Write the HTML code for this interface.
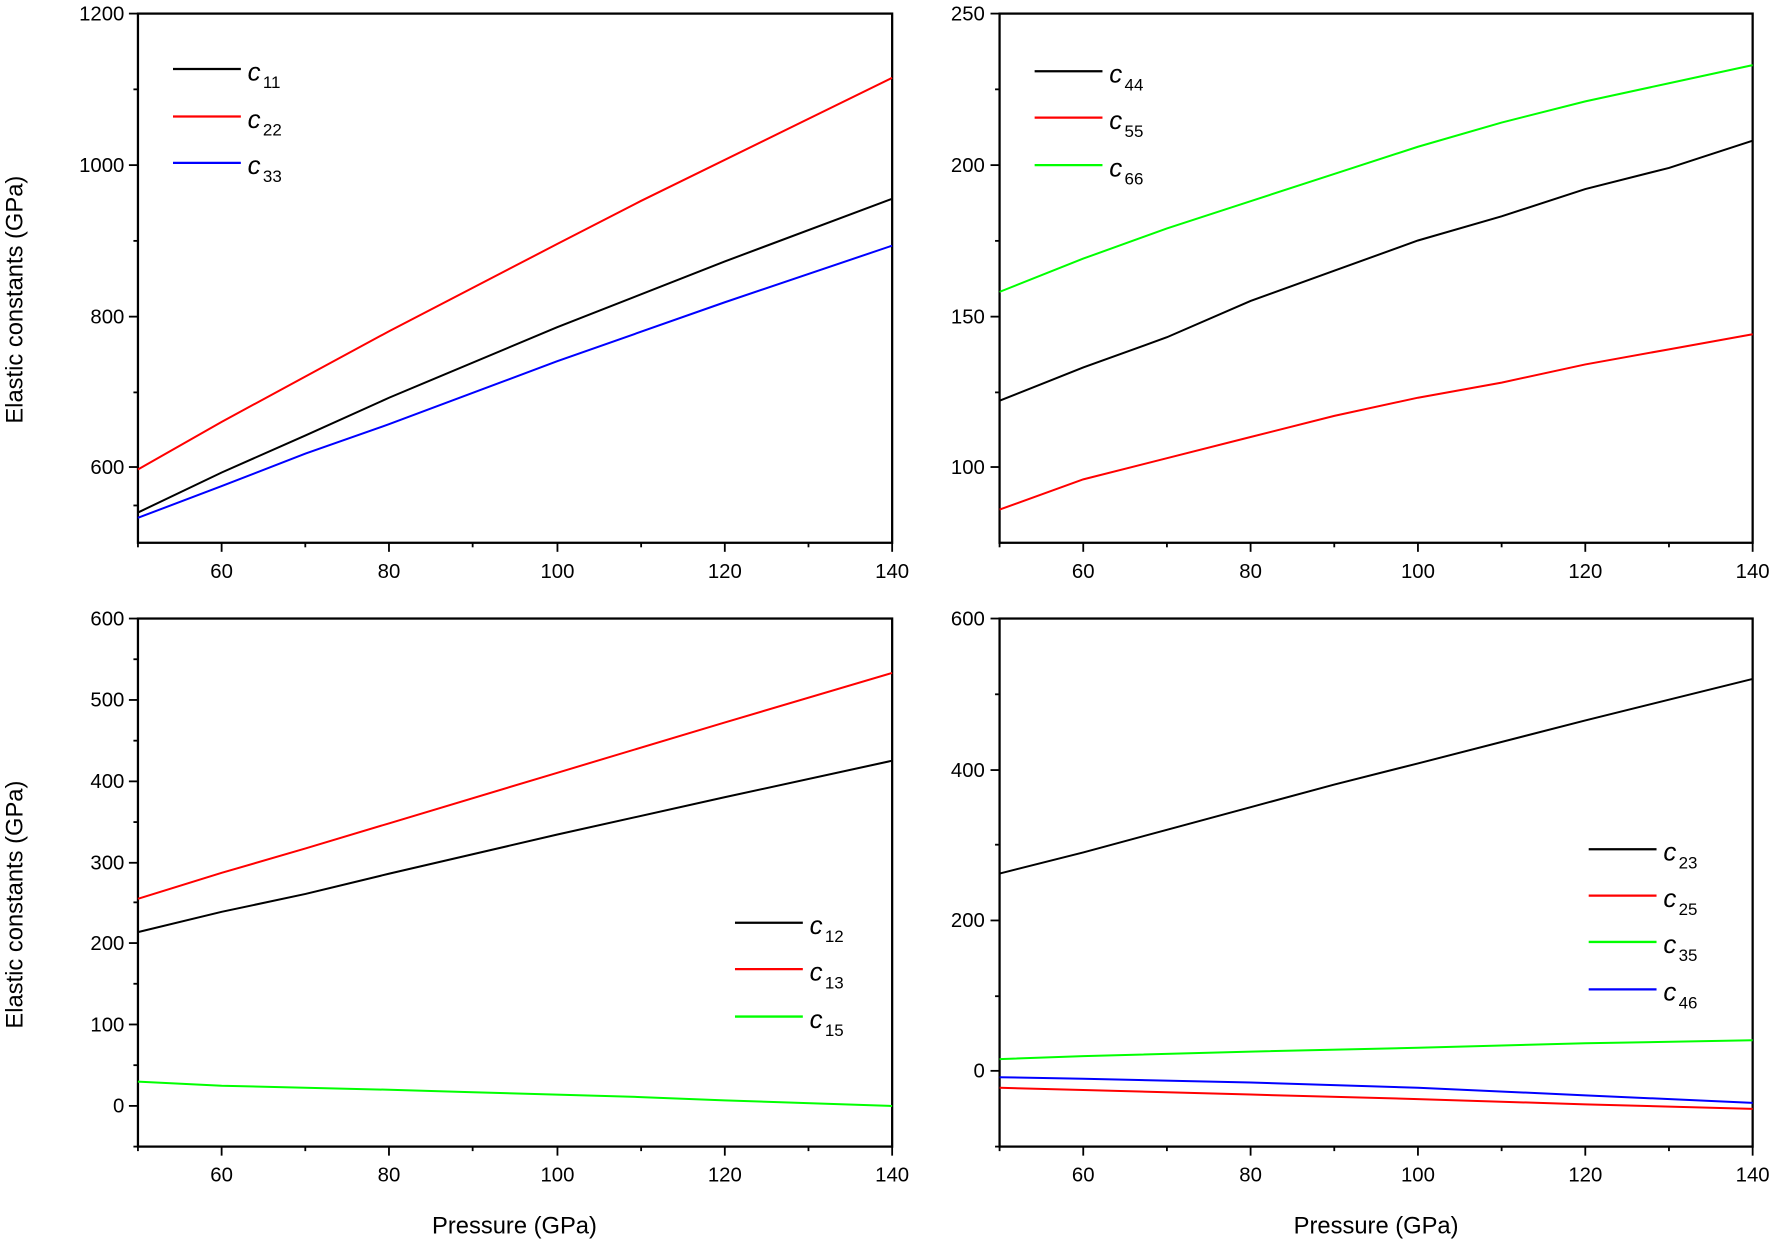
<!DOCTYPE html>
<html><head><meta charset="utf-8"><style>
html,body{margin:0;padding:0;background:#fff}
svg{display:block}
text{font-family:"Liberation Sans",sans-serif;fill:#000}
.t{font-size:18px}
.ti{font-size:21px}
.lg{font-size:23px;font-style:italic}
.sb{font-size:15px;font-style:normal}
polyline{fill:none;stroke-width:2;vector-effect:non-scaling-stroke}
.ax{fill:none;stroke:#000;stroke-width:2}
.tk{stroke:#000;stroke-width:1.6}
</style></head><body>
<svg width="1773" height="1245" viewBox="0 0 1568 1101" xmlns="http://www.w3.org/2000/svg">
<!-- TOP LEFT -->
<rect class="ax" x="122" y="12" width="667" height="468"/>
<g class="tk">
<line x1="196" y1="480" x2="196" y2="488"/><line x1="344" y1="480" x2="344" y2="488"/><line x1="493" y1="480" x2="493" y2="488"/><line x1="641" y1="480" x2="641" y2="488"/><line x1="789" y1="480" x2="789" y2="488"/>
<line x1="122" y1="480" x2="122" y2="484"/><line x1="270" y1="480" x2="270" y2="484"/><line x1="418" y1="480" x2="418" y2="484"/><line x1="567" y1="480" x2="567" y2="484"/><line x1="715" y1="480" x2="715" y2="484"/>
<line x1="114" y1="12" x2="122" y2="12"/><line x1="114" y1="146" x2="122" y2="146"/><line x1="114" y1="280" x2="122" y2="280"/><line x1="114" y1="413" x2="122" y2="413"/>
<line x1="118" y1="79" x2="122" y2="79"/><line x1="118" y1="213" x2="122" y2="213"/><line x1="118" y1="347" x2="122" y2="347"/><line x1="118" y1="447" x2="122" y2="447"/>
</g>
<g class="t" text-anchor="end"><text x="110" y="18">1200</text><text x="110" y="152">1000</text><text x="110" y="286">800</text><text x="110" y="419">600</text></g>
<g class="t" text-anchor="middle"><text x="196" y="511">60</text><text x="344" y="511">80</text><text x="493" y="511">100</text><text x="641" y="511">120</text><text x="789" y="511">140</text></g>
<g transform="matrix(7.411,0,0,-0.6686,-248.6,814.3)">
<polyline stroke="#ff0000" points="50,597 60,660 80,780 100,895 110,952 140,1115"/>
<polyline stroke="#000" points="50,540 60,593 70,642 80,692 100,785 120,872 140,955"/>
<polyline stroke="#0000ff" points="50,533 60,575 70,618 80,657 100,740 120,818 140,893"/>
</g>
<line x1="153" y1="61" x2="213" y2="61" stroke="#000" stroke-width="2"/><line x1="153" y1="103" x2="213" y2="103" stroke="#f00" stroke-width="2"/><line x1="153" y1="144" x2="213" y2="144" stroke="#00f" stroke-width="2"/>
<text class="lg" x="219" y="71">c<tspan class="sb" dx="2" dy="7">11</tspan></text>
<text class="lg" x="219" y="113">c<tspan class="sb" dx="2" dy="7">22</tspan></text>
<text class="lg" x="219" y="154">c<tspan class="sb" dx="2" dy="7">33</tspan></text>
<text class="ti" transform="translate(20,265) rotate(-90)" text-anchor="middle">Elastic constants (GPa)</text>

<!-- TOP RIGHT -->
<rect class="ax" x="884" y="12" width="666" height="468"/>
<g class="tk">
<line x1="958" y1="480" x2="958" y2="488"/><line x1="1106" y1="480" x2="1106" y2="488"/><line x1="1254" y1="480" x2="1254" y2="488"/><line x1="1402" y1="480" x2="1402" y2="488"/><line x1="1550" y1="480" x2="1550" y2="488"/>
<line x1="884" y1="480" x2="884" y2="484"/><line x1="1032" y1="480" x2="1032" y2="484"/><line x1="1180" y1="480" x2="1180" y2="484"/><line x1="1328" y1="480" x2="1328" y2="484"/><line x1="1476" y1="480" x2="1476" y2="484"/>
<line x1="876" y1="12" x2="884" y2="12"/><line x1="876" y1="146" x2="884" y2="146"/><line x1="876" y1="280" x2="884" y2="280"/><line x1="876" y1="413" x2="884" y2="413"/>
<line x1="880" y1="79" x2="884" y2="79"/><line x1="880" y1="213" x2="884" y2="213"/><line x1="880" y1="347" x2="884" y2="347"/>
</g>
<g class="t" text-anchor="end"><text x="871" y="18">250</text><text x="871" y="152">200</text><text x="871" y="286">150</text><text x="871" y="419">100</text></g>
<g class="t" text-anchor="middle"><text x="958" y="511">60</text><text x="1106" y="511">80</text><text x="1254" y="511">100</text><text x="1402" y="511">120</text><text x="1550" y="511">140</text></g>
<g transform="matrix(7.4,0,0,-2.674,514,680.6)">
<polyline stroke="#00ff00" points="50,158 60,169 70,179 80,188 90,197 100,206 110,214 120,221 130,227 140,233"/>
<polyline stroke="#000" points="50,122 60,133 70,143 80,155 90,165 100,175 110,183 120,192 130,199 140,208"/>
<polyline stroke="#ff0000" points="50,86 60,96 70,103 80,110 90,117 100,123 110,128 120,134 130,139 140,144"/>
</g>
<line x1="915" y1="63" x2="975" y2="63" stroke="#000" stroke-width="2"/><line x1="915" y1="104" x2="975" y2="104" stroke="#f00" stroke-width="2"/><line x1="915" y1="146" x2="975" y2="146" stroke="#0f0" stroke-width="2"/>
<text class="lg" x="981" y="73">c<tspan class="sb" dx="2" dy="7">44</tspan></text>
<text class="lg" x="981" y="114">c<tspan class="sb" dx="2" dy="7">55</tspan></text>
<text class="lg" x="981" y="156">c<tspan class="sb" dx="2" dy="7">66</tspan></text>

<!-- BOTTOM LEFT -->
<rect class="ax" x="122" y="547" width="667" height="467"/>
<g class="tk">
<line x1="196" y1="1014" x2="196" y2="1022"/><line x1="344" y1="1014" x2="344" y2="1022"/><line x1="493" y1="1014" x2="493" y2="1022"/><line x1="641" y1="1014" x2="641" y2="1022"/><line x1="789" y1="1014" x2="789" y2="1022"/>
<line x1="122" y1="1014" x2="122" y2="1018"/><line x1="270" y1="1014" x2="270" y2="1018"/><line x1="418" y1="1014" x2="418" y2="1018"/><line x1="567" y1="1014" x2="567" y2="1018"/><line x1="715" y1="1014" x2="715" y2="1018"/>
<line x1="114" y1="547" x2="122" y2="547"/><line x1="114" y1="619" x2="122" y2="619"/><line x1="114" y1="691" x2="122" y2="691"/><line x1="114" y1="763" x2="122" y2="763"/><line x1="114" y1="834" x2="122" y2="834"/><line x1="114" y1="906" x2="122" y2="906"/><line x1="114" y1="978" x2="122" y2="978"/>
<line x1="118" y1="583" x2="122" y2="583"/><line x1="118" y1="655" x2="122" y2="655"/><line x1="118" y1="727" x2="122" y2="727"/><line x1="118" y1="798" x2="122" y2="798"/><line x1="118" y1="870" x2="122" y2="870"/><line x1="118" y1="942" x2="122" y2="942"/><line x1="118" y1="1014" x2="122" y2="1014"/>
</g>
<g class="t" text-anchor="end"><text x="110" y="553">600</text><text x="110" y="625">500</text><text x="110" y="697">400</text><text x="110" y="769">300</text><text x="110" y="840">200</text><text x="110" y="912">100</text><text x="110" y="984">0</text></g>
<g class="t" text-anchor="middle"><text x="196" y="1045">60</text><text x="344" y="1045">80</text><text x="493" y="1045">100</text><text x="641" y="1045">120</text><text x="789" y="1045">140</text></g>
<g transform="matrix(7.411,0,0,-0.7185,-248.6,978.1)">
<polyline stroke="#ff0000" points="50,255 60,287 70,317 80,348 100,410 120,472 140,533"/>
<polyline stroke="#000" points="50,214 60,239 70,261 80,286 100,334 120,380 140,425"/>
<polyline stroke="#00ff00" points="50,30 60,25 80,20 90,17 100,14 110,11 120,7 140,0"/>
</g>
<line x1="650" y1="816" x2="710" y2="816" stroke="#000" stroke-width="2"/><line x1="650" y1="857" x2="710" y2="857" stroke="#f00" stroke-width="2"/><line x1="650" y1="899" x2="710" y2="899" stroke="#0f0" stroke-width="2"/>
<text class="lg" x="716" y="826">c<tspan class="sb" dx="2" dy="7">12</tspan></text>
<text class="lg" x="716" y="867">c<tspan class="sb" dx="2" dy="7">13</tspan></text>
<text class="lg" x="716" y="909">c<tspan class="sb" dx="2" dy="7">15</tspan></text>
<text class="ti" transform="translate(20,800) rotate(-90)" text-anchor="middle">Elastic constants (GPa)</text>
<text class="ti" x="455" y="1091" text-anchor="middle">Pressure (GPa)</text>

<!-- BOTTOM RIGHT -->
<rect class="ax" x="884" y="547" width="666" height="467"/>
<g class="tk">
<line x1="958" y1="1014" x2="958" y2="1022"/><line x1="1106" y1="1014" x2="1106" y2="1022"/><line x1="1254" y1="1014" x2="1254" y2="1022"/><line x1="1402" y1="1014" x2="1402" y2="1022"/><line x1="1550" y1="1014" x2="1550" y2="1022"/>
<line x1="884" y1="1014" x2="884" y2="1018"/><line x1="1032" y1="1014" x2="1032" y2="1018"/><line x1="1180" y1="1014" x2="1180" y2="1018"/><line x1="1328" y1="1014" x2="1328" y2="1018"/><line x1="1476" y1="1014" x2="1476" y2="1018"/>
<line x1="876" y1="547" x2="884" y2="547"/><line x1="876" y1="681" x2="884" y2="681"/><line x1="876" y1="814" x2="884" y2="814"/><line x1="876" y1="947" x2="884" y2="947"/>
<line x1="880" y1="614" x2="884" y2="614"/><line x1="880" y1="747" x2="884" y2="747"/><line x1="880" y1="881" x2="884" y2="881"/><line x1="880" y1="1014" x2="884" y2="1014"/>
</g>
<g class="t" text-anchor="end"><text x="871" y="553">600</text><text x="871" y="687">400</text><text x="871" y="820">200</text><text x="871" y="953">0</text></g>
<g class="t" text-anchor="middle"><text x="958" y="1045">60</text><text x="1106" y="1045">80</text><text x="1254" y="1045">100</text><text x="1402" y="1045">120</text><text x="1550" y="1045">140</text></g>
<g transform="matrix(7.4,0,0,-0.6671,514,947.3)">
<polyline stroke="#000" points="50,262 60,290 70,320 80,350 90,380 100,408 120,465 140,520"/>
<polyline stroke="#00ff00" points="50,16 60,20 80,26 100,31 120,37 140,41"/>
<polyline stroke="#0000ff" points="50,-8 60,-10 80,-15 100,-22 120,-32 140,-42"/>
<polyline stroke="#ff0000" points="50,-22 60,-25 80,-31 100,-37 120,-44 140,-50"/>
</g>
<line x1="1405" y1="751" x2="1465" y2="751" stroke="#000" stroke-width="2"/><line x1="1405" y1="792" x2="1465" y2="792" stroke="#f00" stroke-width="2"/><line x1="1405" y1="833" x2="1465" y2="833" stroke="#0f0" stroke-width="2"/><line x1="1405" y1="875" x2="1465" y2="875" stroke="#00f" stroke-width="2"/>
<text class="lg" x="1471" y="761">c<tspan class="sb" dx="2" dy="7">23</tspan></text>
<text class="lg" x="1471" y="802">c<tspan class="sb" dx="2" dy="7">25</tspan></text>
<text class="lg" x="1471" y="843">c<tspan class="sb" dx="2" dy="7">35</tspan></text>
<text class="lg" x="1471" y="885">c<tspan class="sb" dx="2" dy="7">46</tspan></text>
<text class="ti" x="1217" y="1091" text-anchor="middle">Pressure (GPa)</text>
</svg>
</body></html>
